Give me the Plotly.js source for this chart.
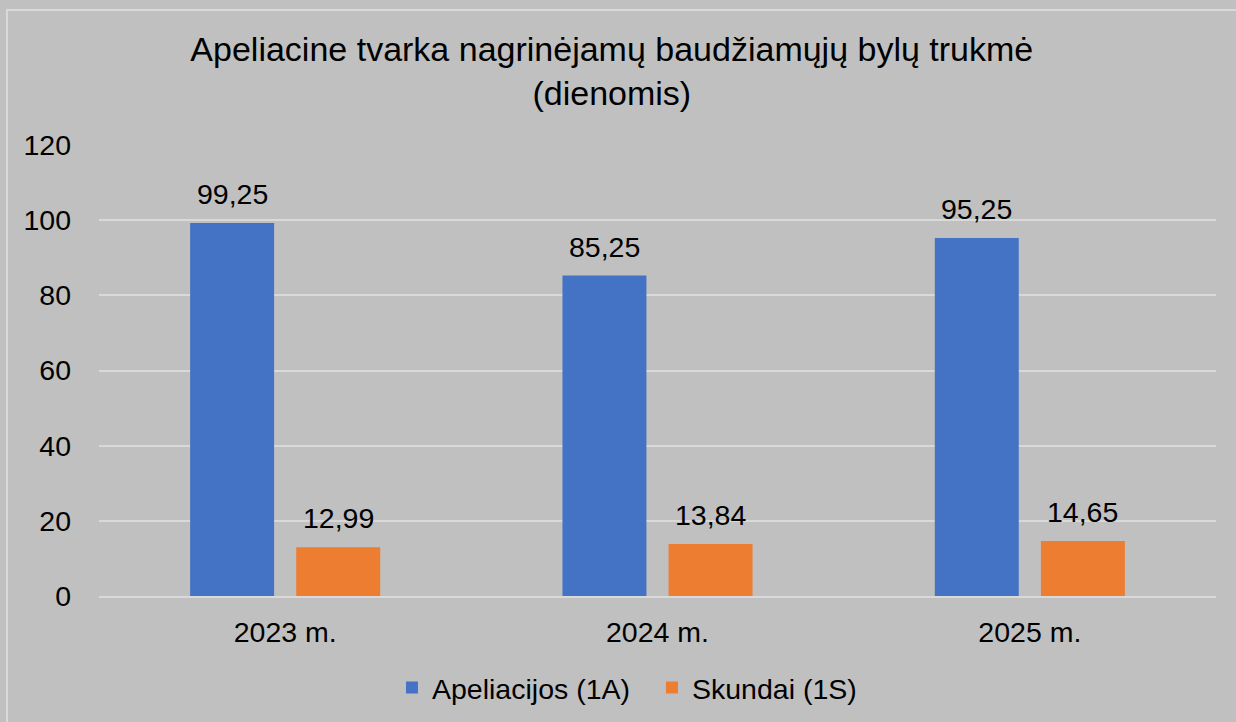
<!DOCTYPE html>
<html><head><meta charset="utf-8">
<script src="https://cdn.plot.ly/plotly-3.0.1.min.js"></script>
<style>
html,body{margin:0;padding:0;background:#C0C0C0;overflow:hidden;}
#frame{position:absolute;left:6px;top:9px;width:1240px;height:730px;border:2px solid #D9D9D9;box-sizing:border-box;pointer-events:none;z-index:5;}
#chart{position:absolute;left:0;top:0;width:1236px;height:722px;}
</style></head>
<body>
<div id="chart"></div>
<div id="frame"></div>
<script>
const categories = ['2023 m.', '2024 m.', '2025 m.'];
const apeliacijos = [99.25, 85.25, 95.25];
const skundai = [12.99, 13.84, 14.65];
const seriesNames = ['Apeliacijos (1A)', 'Skundai (1S)'];
const yTicks = [0, 20, 40, 60, 80, 100, 120];

const font = 'Liberation Sans, Arial, sans-serif';
const FS = 28.5;
const barW = 0.2255, sep = 0.285;
const traces = [
  {type:'bar', name:seriesNames[0], x:categories, y:apeliacijos, marker:{color:'#4472C4'},
   width:barW, offset:-sep/2 - barW/2, hoverinfo:'none'},
  {type:'bar', name:seriesNames[1], x:categories, y:skundai, marker:{color:'#ED7D31'},
   width:barW, offset:sep/2 - barW/2, hoverinfo:'none'}
];
const fmt = v => v.toFixed(2).replace('.', ',');
const annotations = [];
const addLabels = (vals, shift) => vals.forEach((v, i) => annotations.push({
  x:categories[i], y:v, xref:'x', yref:'y', text:fmt(v), showarrow:false,
  xshift:shift, yshift:29, yanchor:'middle', xanchor:'center',
  font:{family:font, size:FS, color:'#000'}
}));
addLabels(apeliacijos, -53);
addLabels(skundai, 53);

const layout = {
  width:1236, height:722,
  paper_bgcolor:'#C0C0C0', plot_bgcolor:'#C0C0C0',
  font:{family:font, size:FS, color:'#000'},
  margin:{l:99, r:20, t:145, b:126, autoexpand:false},
  title:{text:'Apeliacine tvarka nagrinėjamų baudžiamųjų bylų trukmė<br>(dienomis)',
    x:0.495, xanchor:'center', y:0.916, yanchor:'top', font:{family:font,size:34,color:'#000'}},
  barmode:'group',
  annotations:annotations,
  xaxis:{tickfont:{family:font,size:FS}, showline:true, linecolor:'#D9D9D9', linewidth:2,
    ticks:'', showgrid:false, ticklabelstandoff:10},
  yaxis:{range:[0,120], tickvals:yTicks, ticktext:yTicks.map(String), showgrid:true,
    gridcolor:'#D9D9D9', gridwidth:2, zeroline:false, showline:false,
    tickfont:{family:font,size:FS}, ticklabelstandoff:27},
  showlegend:true,
  legend:{orientation:'h', x:0.2623, xanchor:'left', y:-0.204, yanchor:'middle',
    font:{family:font,size:FS}, itemwidth:30, entrywidth:215, traceorder:'normal'}
};
Plotly.newPlot('chart', traces, layout, {displayModeBar:false, staticPlot:true});
</script>
</body></html>
